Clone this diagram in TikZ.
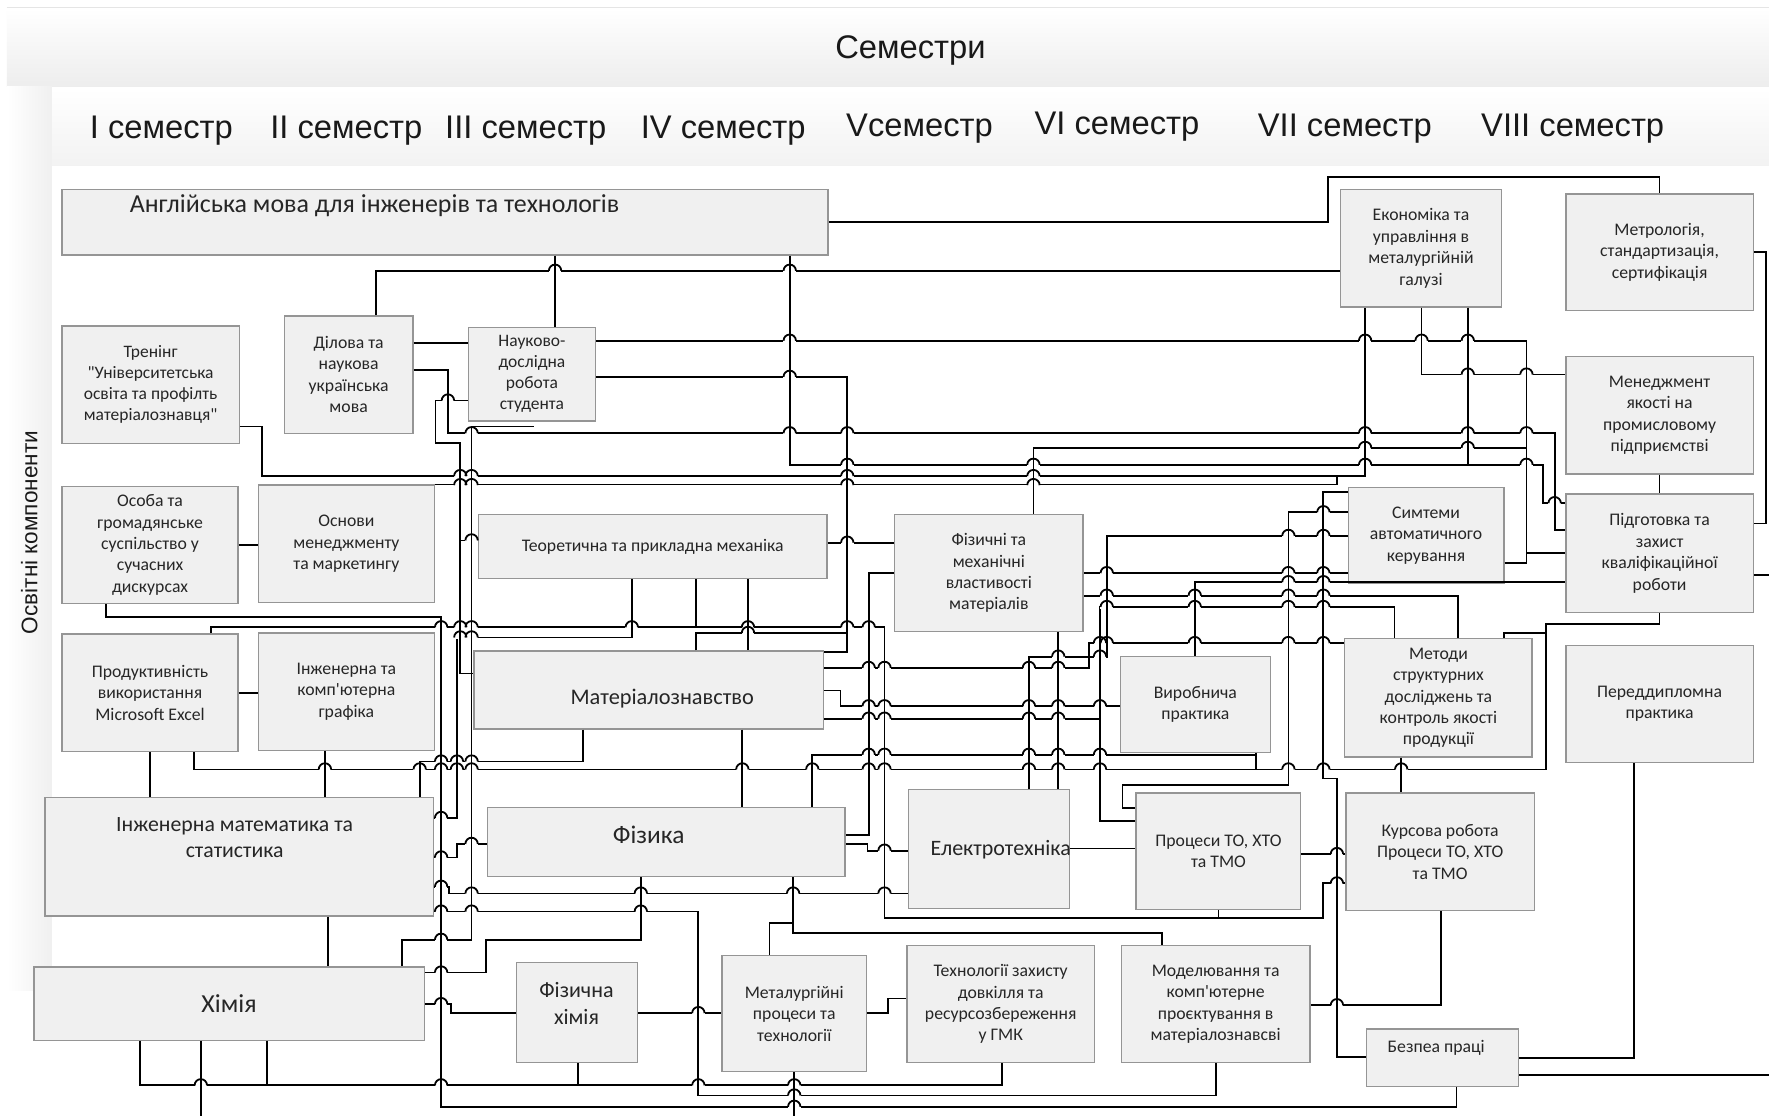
\documentclass[tikz,border=0pt]{standalone}
\usepackage{fontspec}
\setmainfont{Carlito}
\newfontfamily\bxfont{Carlito}
\newfontfamily\hdr{Liberation Sans}
\definecolor{boxfill}{HTML}{F0F0F0}
\definecolor{boxline}{HTML}{959595}
\definecolor{txt}{HTML}{262626}
\tikzset{
  box/.style={draw=boxline, fill=boxfill, line width=1.2pt, inner sep=0pt, align=center, text=txt,
              font=\bxfont\fontsize{15.7}{19}\selectfont},
  lbl/.style={text=txt, align=center, inner sep=0pt},
  hdrlbl/.style={text=black!90, inner sep=0pt, font=\hdr\fontsize{29}{33}\selectfont},
  wire/.style={line width=1.6pt, black, line join=miter},
}
\newcommand\bx[7][]{%
  \pgfmathsetmacro\bxcx{(#3+#5)/2}%
  \pgfmathsetmacro\bxcy{(#4+#6)/2}%
  \pgfmathsetmacro\bxw{#5-#3}%
  \pgfmathsetmacro\bxh{#6-#4}%
  \node[box,minimum width=\bxw pt,minimum height=\bxh pt,#1] (#2) at (\bxcx,\bxcy) {#7};}
\begin{document}
\begin{tikzpicture}[x=1pt,y=-1pt]
\useasboundingbox (0,0) rectangle (1568,989);
\fill[white] (0,0) rectangle (1568,989);
% header bands
\shade[top color=white, bottom color=black!7] (6,7) rectangle (1568,77);
\draw[black!10, line width=0.8pt] (6,7) -- (1568,7);
\shade[top color=white, bottom color=black!5] (46,78) rectangle (1568,147);
\shade[left color=white, right color=black!6] (6,77) rectangle (46,878);
\node[hdrlbl] (semtitle) at (807,45) {Семестри};
\node[hdrlbl] (s1) at (143,116) {I семестр};
\node[hdrlbl] (s2) at (307,116) {II семестр};
\node[hdrlbl] (s3) at (466,116) {III семестр};
\node[hdrlbl] (s4) at (641,116) {IV семестр};
\node[hdrlbl] (s5) at (815,114) {Vсеместр};
\node[hdrlbl] (s6) at (990,112) {VI семестр};
\node[hdrlbl] (s7) at (1192,114) {VII семестр};
\node[hdrlbl] (s8) at (1394,114) {VIII семестр};
\node[hdrlbl, rotate=90, font=\hdr\fontsize{20}{23}\selectfont] (osv) at (26,472) {Освітні компоненти};

% boxes
\bx{eng}{55}{168}{734}{226}{}
\node[lbl, font=\bxfont\fontsize{23}{27}\selectfont] (engt) at (332,182) {Англійська мова для інженерів та технологів};
\bx[font=\bxfont\fontsize{15.5}{18.5}\selectfont]{tren}{55}{289}{212}{393}{Тренінг\\"Університетська\\освіта та профілть\\матеріалознавця"}
\bx{dil}{252}{280}{366}{384}{Ділова та\\наукова\\українська\\мова}
\bx[font=\bxfont\fontsize{15.5}{18.7}\selectfont]{ndr}{415}{290}{528}{373}{Науково-\\дослідна\\робота\\студента}
\bx{econ}{1188}{168}{1331}{272}{Економіка та\\управління в\\металургійній\\галузі}
\bx{metr}{1388}{172}{1554}{275}{Метрологія,\\стандартизація,\\сертифікація}
\bx{menq}{1388}{316}{1554}{420}{Менеджмент\\якості на\\промисловому\\підприємстві}
\bx{osoba}{55}{431}{211}{535}{Особа та\\громадянське\\суспільство у\\сучасних\\дискурсах}
\bx{osnovy}{229}{430}{385}{534}{Основи\\менеджменту\\та маркетингу}
\bx{teor}{424}{456}{733}{513}{Теоретична та прикладна механіка}
\bx{fizmeh}{793}{456}{960}{560}{Фізичні та\\механічні\\властивості\\матеріалів}
\bx{sae}{1195}{432}{1333}{517}{Симтеми\\автоматичного\\керування}
\bx{pidg}{1388}{438}{1554}{543}{Підготовка та\\захист\\кваліфікаційної\\роботи}
\bx{prod}{55}{562}{211}{666}{Продуктивність\\використання\\Microsoft Excel}
\bx{graf}{229}{561}{385}{665}{Інженерна та\\комп'ютерна\\графіка}
\bx{matz}{420}{577}{730}{646}{}
\node[lbl, font=\bxfont\fontsize{19.8}{23}\selectfont] (matzt) at (587,619) {Матеріалознавство};
\bx{vyrob}{993}{582}{1126}{667}{Виробнича\\практика}
\bx{metod}{1192}{566}{1358}{671}{Методи\\структурних\\досліджень та\\контроль якості\\продукції}
\bx{pered}{1388}{572}{1554}{676}{Переддипломна\\практика}
\bx{inzhmat}{40}{707}{384}{812}{}
\node[lbl, font=\bxfont\fontsize{19.3}{23}\selectfont] (inzhmatt) at (208,742) {Інженерна математика та\\статистика};
\bx{fiz}{432}{716}{749}{777}{}
\node[lbl, font=\bxfont\fontsize{22.5}{26}\selectfont] (fizt) at (575,740) {Фізика};
\bx{elektro}{805}{700}{948}{805}{}
\node[lbl, font=\bxfont\fontsize{19.5}{23}\selectfont] (elektrot) at (887,753) {Електротехніка};
\bx{proc}{1007}{703}{1153}{806}{Процеси ТО, ХТО\\та ТМО}
\bx{kurs}{1193}{703}{1360}{807}{Курсова робота\\Процеси ТО, ХТО\\та ТМО}
\bx[font=\bxfont\fontsize{23}{27}\selectfont]{khim}{30}{857}{376}{922}{Хімія}
\bx{fizkhim}{458}{853}{565}{942}{}
\node[lbl, font=\bxfont\fontsize{19.5}{24}\selectfont] (fizkhimt) at (511,889) {Фізична\\хімія};
\bx{metal}{640}{847}{768}{950}{Металургійні\\процеси та\\технології}
\bx{tekh}{804}{838}{970}{942}{Технології захисту\\довкілля та\\ресурсозбереження\\у ГМК}
\bx{model}{994}{838}{1161}{942}{Моделювання та\\комп'ютерне\\проєктування в\\матеріалознавсві}
\bx{bezp}{1211}{912}{1346}{963}{}
\node[lbl, font=\bxfont\fontsize{15.7}{19}\selectfont] (bezpt) at (1273,929) {Безпеа праці};

\coordinate (ndrstub) at (473,378);

% connectors
\draw[wire] (eng.east) -- (1177,197) -- (1177,157) -- (1471,157) -- (metr.north);
\draw[wire] (dil.north-|333,0) |- (econ.west|-0,240);
\draw[wire] (eng.south-|492,0) -- (ndr.north-|492,0);
\draw[wire] (eng.south-|700,0) |- (1368,412) |- (pidg.west|-0,446);
\draw[wire] (dil.east|-0,304) -- (ndr.west|-0,304);
\draw[wire] (dil.east|-0,328) -| (397,384) -| (1378,470) -- (pidg.west|-0,470);
\draw[wire] (ndr.east|-0,302) -| (1353,490) -- (pidg.west|-0,490);
\draw[wire] (ndr.east|-0,334) -| (751,578) -- (matz.east|-0,578);
\draw[wire] (ndr.west|-0,355) -| (386,393) -| (408,597) -- (matz.west|-0,597);
\draw[wire] (408,479) -- (teor.west|-0,479);
\draw[wire] (ndrstub) -| (418,833) -| (khim.north-|356,0);
\draw[wire] (econ.south-|1260,0) |- (menq.west|-0,332);
\draw[wire] (econ.south-|1301,0) -- (1301,412);
\draw[wire] (tren.east|-0,378) -| (232,422) -| (econ.south-|1210,0);
\draw[wire] (osnovy.north east) -| (1185,422);
\draw[wire] (fizmeh.north-|916,0) |- (1353,397);
\draw[wire] (osoba.east) -- (osnovy.west|-osoba.east);
\draw[wire] (osoba.south-|94,0) |- (391,547) |- (1291,981) -- (bezp.south-|1291,0);
\draw[wire] (prod.north-|187,0) |- (784,556) |- (1080,814) -- (proc.south);
\draw[wire] (teor.south-|617,0) -- (617,556);
\draw[wire] (matz.north-|617,0) |- (751,561);
\draw[wire] (teor.south-|663,0) -- (matz.north-|663,0);
\draw[wire] (teor.south-|560,0) |- (405,565) |- (inzhmat.east|-0,725);
\draw[wire] (teor.east|-0,481) -- (fizmeh.west|-0,481);
\draw[wire] (prod.east) -- (graf.west|-prod.east);
\draw[wire] (prod.south) -- (inzhmat.north-|prod.south);
\draw[wire] (graf.south-|288,0) -- (inzhmat.north-|288,0);
\draw[wire] (prod.south-|172,0) |- (1370,682) |- (1471,553) -- (pidg.south);
\draw[wire] (matz.south-|517,0) |- (372,675) -- (inzhmat.north-|372,0);
\draw[wire] (matz.south-|658,0) -- (fiz.north-|658,0);
\draw[wire] (matz.east|-0,592) -| (965,570) -- (metod.west|-0,570);
\draw[wire] (matz.east|-0,612) -| (745,626) -- (vyrob.west|-0,626);
\draw[wire] (matz.east|-0,637) -- (975,637);
\draw[wire] (metod.north-|1236,0) |- (975,538) |- (proc.west|-0,728);
\draw[wire] (elektro.north-|912,0) |- (981,582) |- (sae.west|-0,475);
\draw[wire] (fizmeh.south-|938,0) -- (elektro.north-|938,0);
\draw[wire] (fizmeh.west|-0,508) -| (770,740) -- (fiz.east|-0,740);
\draw[wire] (fiz.east|-0,748) -| (769,754) -- (elektro.west|-0,754);
\draw[wire] (fiz.south-|703,0) |- (1030,827) -- (model.north-|1030,0);
\draw[wire] (metal.north-|682,0) |- (703,818);
\draw[wire] (1080,814) -| (1173,783) -- (kurs.west|-0,783);
\draw[wire] (elektro.east|-0,752) -- (proc.west|-0,752);
\draw[wire] (inzhmat.east|-0,786) -| (398,792) -- (elektro.west|-0,792);
\draw[wire] (proc.east|-0,757) -- (kurs.west|-0,757);
\draw[wire] (sae.west|-0,436) -| (1173,690) -| (1185,937) -- (bezp.west|-0,937);
\draw[wire] (metal.east|-0,898) -| (787,885) -- (tekh.west|-0,885);
\draw[wire] (fizkhim.east|-0,898) -- (metal.west|-0,898);
\draw[wire] (khim.east|-0,890) -| (400,898) -- (fizkhim.west|-0,898);
\draw[wire] (khim.east|-0,862) -| (431,833) -| (fiz.south-|568,0);
\draw[wire] (khim.south-|124,0) |- (888,962) -- (tekh.south-|888,0);
\draw[wire] (khim.south-|237,0) -- (237,962);
\draw[wire] (fizkhim.south-|512,0) -- (512,962);
\draw[wire] (khim.south-|178,0) -- (178,989);
\draw[wire] (metal.south) -- (704,989);
\draw[wire] (inzhmat.south-|291,0) -- (khim.north-|291,0);
\draw[wire] (inzhmat.east|-0,808) -| (619,971) -| (model.south-|1078,0);
\draw[wire] (inzhmat.east|-0,760) -| (405,748) -- (fiz.west|-0,748);
\draw[wire] (kurs.south-|1277,0) |- (model.east|-0,891);
\draw[wire] (sae.west|-0,454) -| (1142,696) -| (995,716) -- (proc.west|-0,716);
\draw[wire] (metod.south-|1242,0) -- (kurs.north-|1242,0);
\draw[wire] (vyrob.south-|1113,0) -- (1113,682);
\draw[wire] (vyrob.north) |- (pidg.west|-0,516);
\draw[wire] (fizmeh.east|-0,508) -- (sae.west|-0,508);
\draw[wire] (fizmeh.east|-0,528) -| (metod.north-|1292,0);
\draw[wire] (metod.north-|1333,0) |- (1370,561);
\draw[wire] (menq.south) -- (pidg.north);
\draw[wire] (metr.east) -| (1565,464) -- (pidg.east|-0,464);
\draw[wire] (pidg.east|-0,510) -- (1568,510);
\draw[wire] (pered.south-|1448,0) |- (bezp.east|-0,938);
\draw[wire] (bezp.east|-0,953) -- (1568,953);
\draw[wire] (sae.east|-0,499) -| (1353,490);
\draw[wire] (fiz.north-|720,0) |- (1113,669);

% line jumps
\def\hoplist{492/240,700/240,
751/412,916/412,1210/412,1353/412,1378/446,
418/384,700/384,751/384,1210/384,1301/384,1353/384,
700/302,1210/302,1260/302,1301/302,700/334,397/355,418/479,391/833,
1301/332,1353/332,
408/422,418/422,751/422,916/422,408/430,418/430,751/430,916/430,
1210/397,1301/397,704/981,
391/556,408/556,418/556,560/556,663/556,751/556,770/556,663/561,408/565,418/565,
391/725,751/481,
288/682,372/682,391/682,405/682,418/682,658/682,720/682,770/682,784/682,912/682,938/682,975/682,1142/682,1173/682,1242/682,
391/675,405/675,418/675,
770/592,784/592,912/592,938/592,
975/570,981/570,1059/570,1142/570,1173/570,
770/626,784/626,912/626,938/626,975/626,
770/637,784/637,912/637,938/637,
981/538,1059/538,1142/538,1173/538,
938/582,975/582,1142/475,1173/475,784/754,
418/792,568/792,703/792,784/792,1185/757,1185/783,619/898,
391/890,391/862,391/786,178/962,391/962,619/962,704/962,
391/808,418/808,568/808,704/971,391/760,418/748,1185/891,1173/454,
770/669,784/669,912/669,938/669,975/669,
981/508,1142/508,1173/508,
981/528,1059/528,1142/528,1173/528,1142/516,1173/516}
\foreach \hx/\hy in \hoplist {\fill[white] (\hx-5.6,\hy-1.6) rectangle (\hx+5.6,\hy+1.6);}
\foreach \hx/\hy in \hoplist {\draw[wire, line cap=butt] (\hx,\hy-2.5) -- (\hx,\hy+2.5);}
\foreach \hx/\hy in \hoplist {\draw[wire, line cap=butt] (\hx-5.5,\hy) arc[start angle=180, end angle=360, radius=5.5];}
\end{tikzpicture}
\end{document}
